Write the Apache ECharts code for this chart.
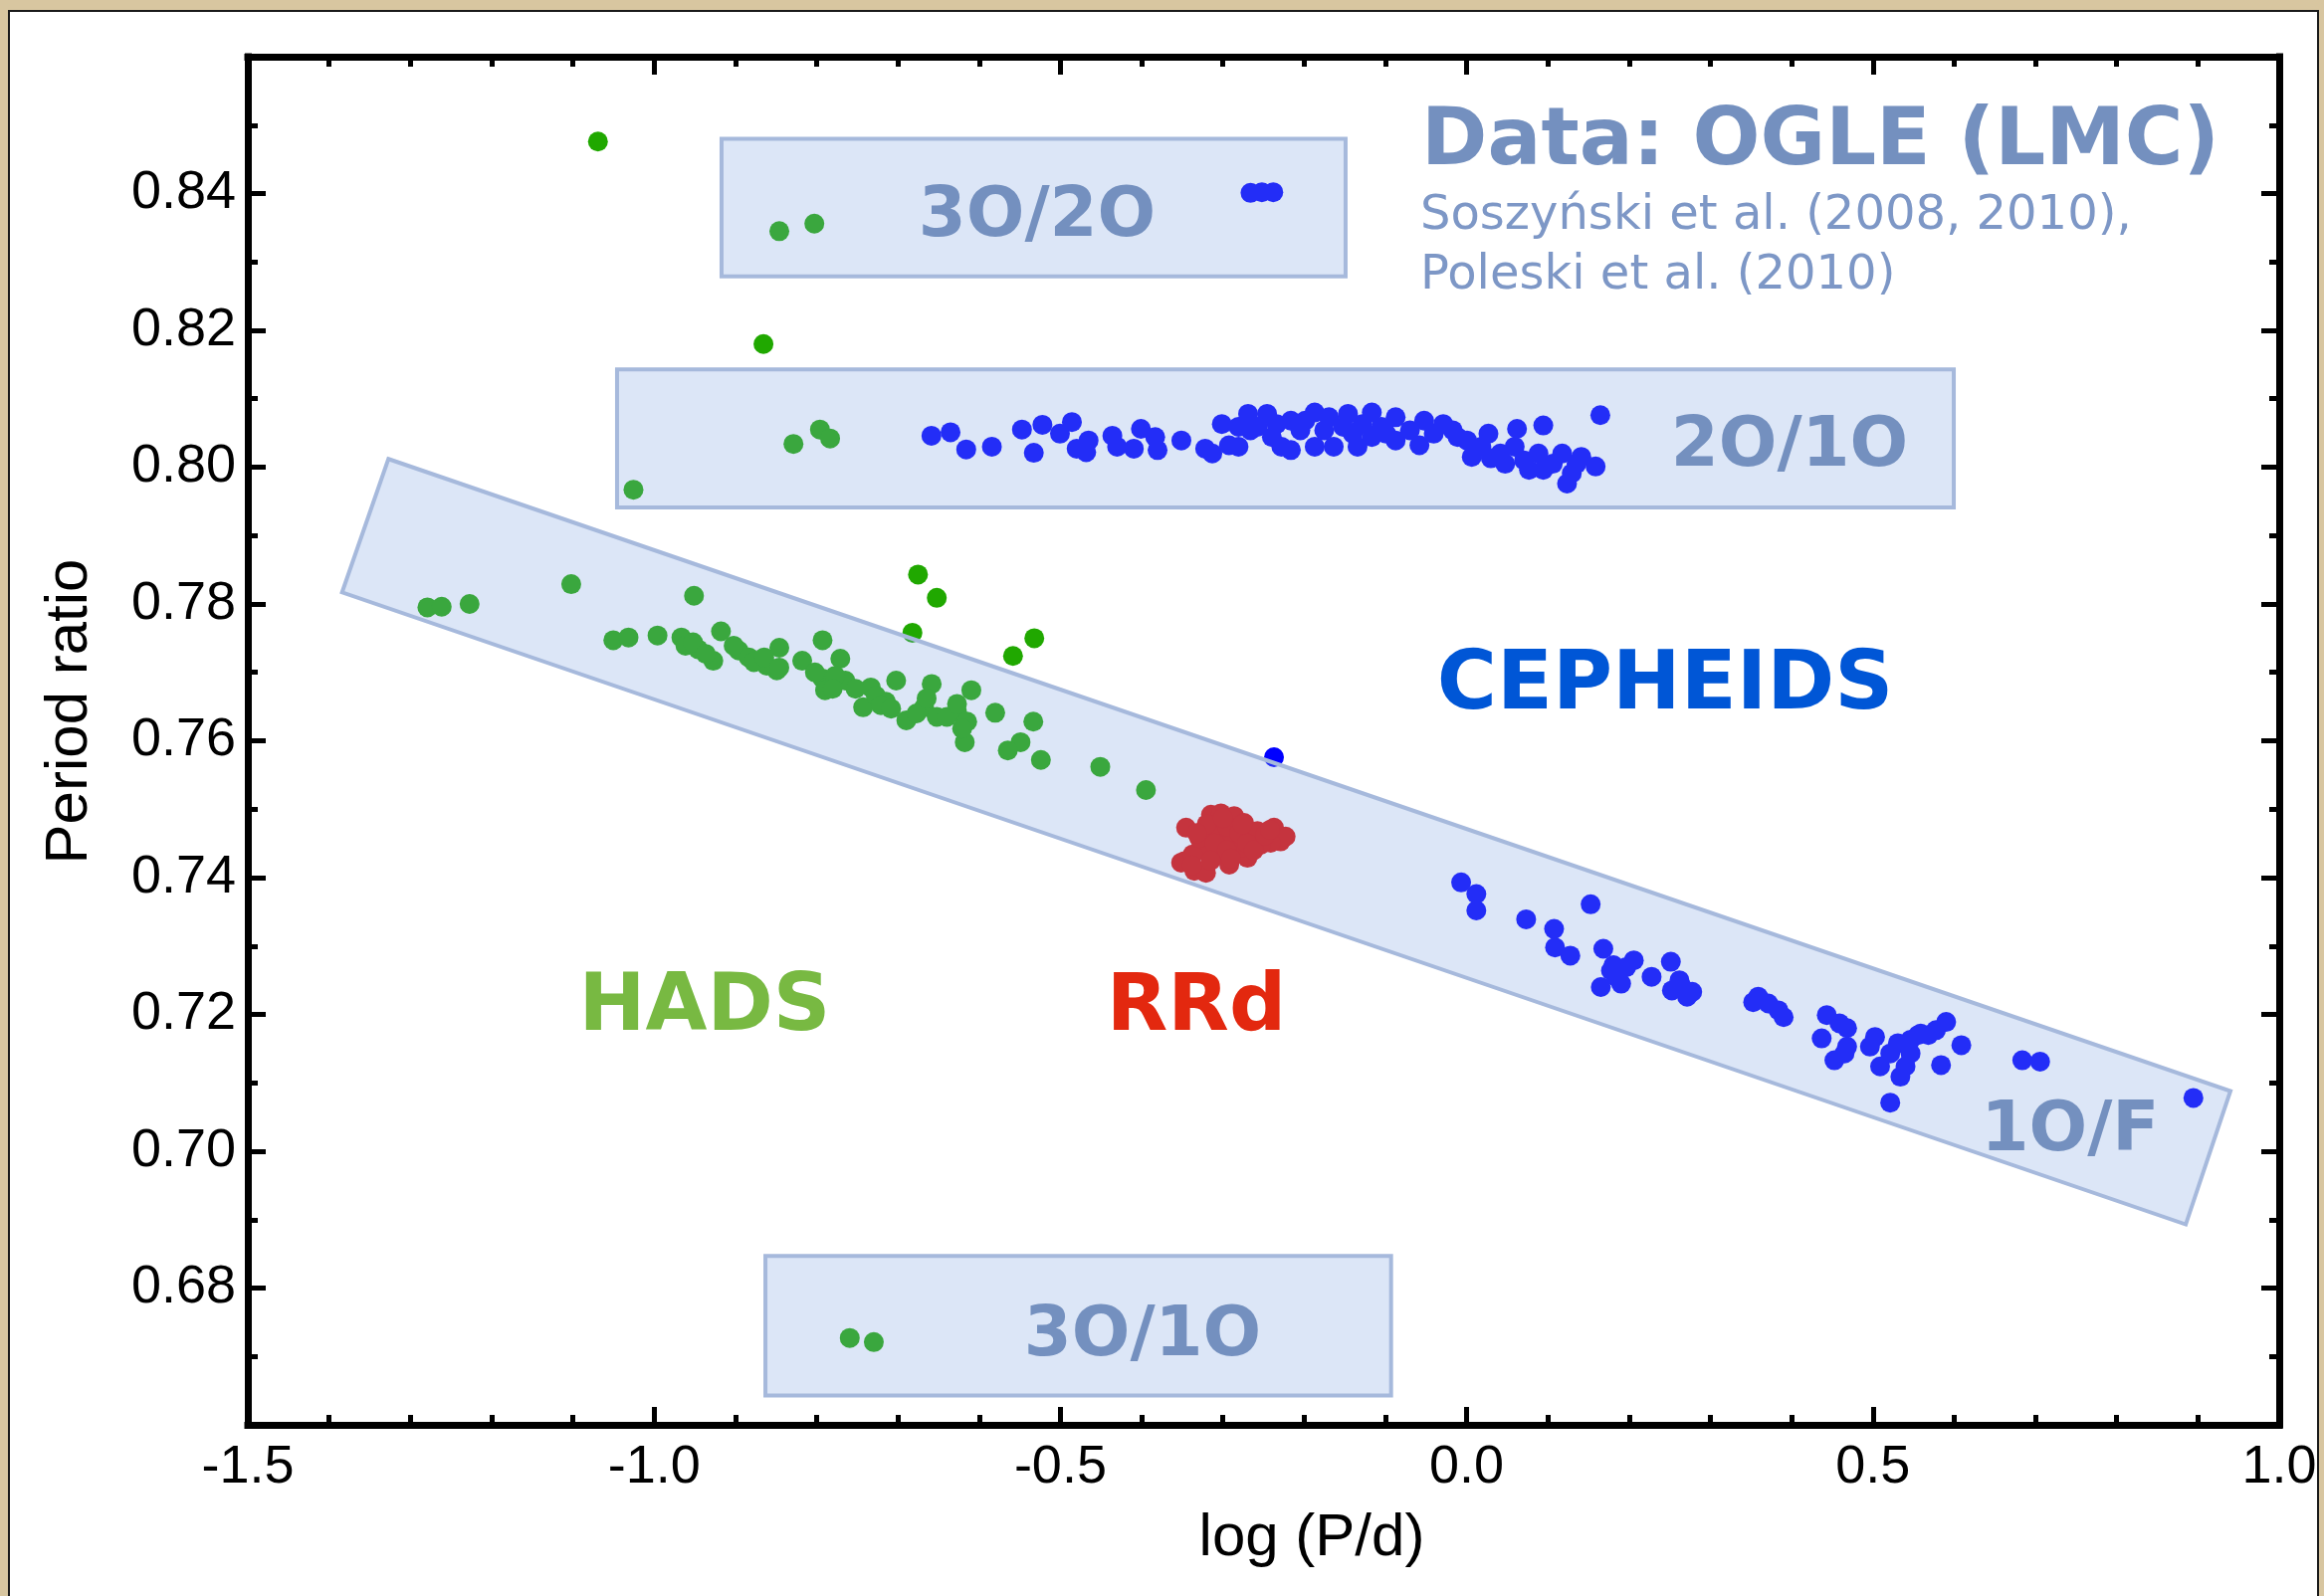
<!DOCTYPE html>
<html><head><meta charset="utf-8">
<script src="https://cdn.jsdelivr.net/npm/echarts/dist/echarts.min.js"></script>
<style>html,body{margin:0;padding:0;background:#d8c6a0}#c{width:2335px;height:1604px}</style>
</head><body><div id="c"></div>
<script>
// ---- data: [log(P/d), period ratio] ----
const hadsPoints = [
 [-1.279,0.7795],[-1.2614,0.7796],[-1.2271,0.7800],[-1.102,0.7829],[-0.9509,0.7812],
 [-1.0502,0.7747],[-1.0315,0.7751],[-0.9958,0.7754],[-0.9664,0.7751],[-0.9614,0.7739],[-0.9459,0.7734],
 [-0.9271,0.7717],[-0.9177,0.7760],[-0.8959,0.7732],[-0.8834,0.7722],[-0.8615,0.7710],[-0.8459,0.7736],
 [-0.8490,0.7703],[-0.8177,0.7717],[-0.7927,0.7747],[-0.7708,0.7720],[-0.7927,0.7691],[-0.7646,0.7688],
 [-0.7896,0.7674],[-0.7333,0.7678],[-0.7428,0.7649],[-0.7146,0.7657],[-0.7021,0.7688],[-0.6896,0.7630],
 [-0.6677,0.7649],[-0.6584,0.7683],[-0.6521,0.7635],[-0.6272,0.7642],[-0.6147,0.7628],[-0.6177,0.7598],
 [-0.6096,0.7674],[-0.5802,0.7641],[-0.5333,0.7628],[-0.5490,0.7598],[-0.5647,0.7586],[-0.5240,0.7572],
 [-0.4509,0.7562],[-0.3947,0.7528],
 [-0.9521,0.7744],[-0.9364,0.7727],[-0.9021,0.7739],[-0.8772,0.7715],[-0.8645,0.7722],[-0.8459,0.7707],
 [-0.8021,0.7700],[-0.7771,0.7695],[-0.7803,0.7676],[-0.7521,0.7676],[-0.7271,0.7666],[-0.7209,0.7652],
 [-0.7083,0.7647],[-0.6771,0.7640],[-0.6646,0.7662],[-0.6397,0.7635],[-0.6209,0.7618],[-0.6272,0.7654],
 [-0.6752,0.7843],[-0.6521,0.7809],[-0.6821,0.7758],[-0.5583,0.7724],[-0.5321,0.7750],
 [-1.0691,0.8476],[-0.8459,0.8345],[-0.8028,0.8356],[-0.8654,0.8180],[-0.8285,0.8034],[-0.7959,0.8055],
 [-0.7834,0.8042],[-1.0254,0.7967],
 [-0.7592,0.6727],[-0.7296,0.6721]
];
const cepheidPoints = [
 // 3O/2O
 [-0.266,0.8401],[-0.252,0.8402],[-0.238,0.8402],
 // 2O/1O
 [-0.6587,0.8046],[-0.6352,0.8051],[-0.6159,0.8026],[-0.5843,0.8030],[-0.5473,0.8055],[-0.5327,0.8021],
 [-0.5221,0.8062],[-0.5005,0.8049],[-0.4858,0.8066],[-0.4800,0.8027],[-0.4682,0.8022],[-0.4653,0.8039],
 [-0.4360,0.8046],[-0.4302,0.8030],[-0.4096,0.8027],[-0.4009,0.8056],[-0.3833,0.8044],[-0.3804,0.8025],
 [-0.3511,0.8039],[-0.3218,0.8027],[-0.3130,0.8020],[-0.3013,0.8063],[-0.2925,0.8032],[-0.2808,0.8030],
 [-0.2690,0.8078],[-0.2661,0.8054],[-0.2456,0.8078],[-0.2280,0.8030],[-0.2163,0.8025],[-0.2046,0.8054],
 [-0.1870,0.8080],[-0.1870,0.8030],[-0.1694,0.8073],[-0.1636,0.8030],[-0.1460,0.8078],[-0.1343,0.8030],
 [-0.1167,0.8080],[-0.1050,0.8059],[-0.0874,0.8073],[-0.0874,0.8039],[-0.0581,0.8032],[-0.0523,0.8068],
 [-0.0288,0.8063],[0.0005,0.8039],[0.0063,0.8015],[0.0268,0.8049],[0.0298,0.8013],[0.0474,0.8005],
 [0.0620,0.8056],[0.0767,0.7996],[0.0943,0.8061],[0.0943,0.7996],[0.1176,0.8020],[0.1235,0.7976],
 [0.1352,0.8005],[0.1587,0.8001],[0.1645,0.8076],
 [-0.2573,0.8059],[-0.2339,0.8063],[-0.2163,0.8068],[-0.1987,0.8068],[-0.1753,0.8054],[-0.1519,0.8059],
 [-0.1284,0.8063],[-0.0991,0.8049],[-0.0698,0.8054],[-0.0405,0.8049],[-0.0171,0.8054],[-0.0112,0.8044],
 [0.0181,0.8030],[0.0415,0.8020],[0.0591,0.8030],[0.0708,0.8010],[0.0884,0.8020],[0.1060,0.8005],
 [0.1294,0.7991],[0.1411,0.8015],[-0.2808,0.8059],[-0.2397,0.8044],[-0.1401,0.8049],[-0.1167,0.8044],
 // 1O/F
 [-0.2371,0.7576],
 [-0.0068,0.7393],[0.0119,0.7376],[0.0119,0.7352],[0.0732,0.7339],[0.1526,0.7361],[0.1076,0.7325],
 [0.1088,0.7298],[0.1276,0.7286],[0.1682,0.7296],[0.1807,0.7272],[0.2057,0.7279],[0.1651,0.7240],
 [0.1901,0.7245],[0.2276,0.7255],[0.2513,0.7277],[0.2619,0.7250],[0.2526,0.7235],[0.2776,0.7233],
 [0.3526,0.7218],[0.3713,0.7216],[0.3901,0.7196],[0.4432,0.7199],[0.4682,0.7180],[0.4369,0.7165],
 [0.4682,0.7153],[0.4526,0.7133],[0.5026,0.7167],[0.5088,0.7124],[0.5307,0.7158],[0.5463,0.7143],
 [0.5338,0.7109],[0.5557,0.7170],[0.5682,0.7170],[0.5901,0.7189],[0.6088,0.7155],[0.5838,0.7126],
 [0.5213,0.7071],[0.6838,0.7133],[0.7057,0.7131],[0.8944,0.7078],
 [0.1776,0.7264],[0.1963,0.7269],[0.1838,0.7255],[0.2651,0.7240],[0.2713,0.7226],[0.3588,0.7226],
 [0.3838,0.7206],[0.4588,0.7187],[0.4651,0.7143],[0.4963,0.7153],[0.5213,0.7143],[0.5401,0.7124],
 [0.5463,0.7163],[0.5588,0.7172],[0.5776,0.7177]
];
const rrdPoints = [
 [-0.3453,0.7473],[-0.3514,0.7422],[-0.3351,0.7410],[-0.3208,0.7407],[-0.3147,0.7492],[-0.3024,0.7494],
 [-0.2861,0.7490],[-0.2739,0.7480],[-0.2657,0.7463],[-0.2575,0.7468],[-0.2371,0.7473],[-0.2290,0.7453],
 [-0.2228,0.7460],[-0.2412,0.7451],[-0.2698,0.7429],[-0.2922,0.7419],[-0.3065,0.7434],[-0.3269,0.7444],
 [-0.3024,0.7458],[-0.2861,0.7453],[-0.3147,0.7468],[-0.2779,0.7444],[-0.2534,0.7448],[-0.3474,0.7424],
 [-0.3371,0.7434],
 [-0.3290,0.7458],[-0.3200,0.7478],[-0.3100,0.7450],[-0.2950,0.7475],[-0.2950,0.7440],[-0.2800,0.7465],
 [-0.2700,0.7450],[-0.2620,0.7440],[-0.2480,0.7462],[-0.2420,0.7470],[-0.3380,0.7418],[-0.3150,0.7425],
 [-0.2900,0.7428],[-0.3000,0.7487],[-0.2760,0.7478],[-0.3320,0.7465]
];
// period-ratio regions, corners in data units
const regionNames = ['3O/2O', '2O/1O', '3O/1O', '1O/F'];
const regionCorners = [
 [[-0.917,0.8480],[-0.149,0.8480],[-0.149,0.8279],[-0.917,0.8279]],
 [[-1.0456,0.8143],[0.5995,0.8143],[0.5995,0.7941],[-1.0456,0.7941]],
 [[-0.863,0.6847],[-0.093,0.6847],[-0.093,0.6643],[-0.863,0.6643]],
 [[-1.327,0.8012],[0.940,0.7088],[0.885,0.6893],[-1.384,0.7817]]
];
const xTicks = {min: -1.5, max: 1.0, step: 0.5};
const yTicks = {min: 0.66, max: 0.86, step: 0.02};

const chart = echarts.init(document.getElementById('c'));
const tickFont = '"Liberation Sans", Arial, sans-serif';
const slate = '#7490bf';

function axisCommon(isX) {
  return {
    axisLine: {show: true, onZero: false, lineStyle: {color: '#000', width: 7, cap: 'square'}},
    axisTick: {show: true, inside: true, length: 18, lineStyle: {color: '#000', width: 5}},
    minorTick: {show: true, splitNumber: isX ? 5 : 2, length: 10, lineStyle: {color: '#000', width: 5}},
    splitLine: {show: false},
    minorSplitLine: {show: false}
  };
}

const regionCenters = regionCorners.map(c => [
  c.reduce((s, p) => s + p[0], 0) / c.length,
  c.reduce((s, p) => s + p[1], 0) / c.length
]);

chart.setOption({
  backgroundColor: '#d8c6a0',
  animation: false,
  grid: {left: 249, right: 45, top: 57, bottom: 172},
  xAxis: [
    Object.assign({type: 'value', min: xTicks.min, max: xTicks.max, interval: xTicks.step, position: 'bottom',
      axisLabel: {show: true, fontSize: 54, color: '#000', fontFamily: tickFont, margin: 16,
        formatter: v => v.toFixed(1)}}, axisCommon(true)),
    Object.assign({type: 'value', min: xTicks.min, max: xTicks.max, interval: xTicks.step, position: 'top',
      axisLabel: {show: false}}, axisCommon(true))
  ],
  yAxis: [
    Object.assign({type: 'value', min: yTicks.min, max: yTicks.max, interval: yTicks.step, position: 'left',
      axisLabel: {show: true, fontSize: 54, color: '#000', fontFamily: tickFont, margin: 12,
        formatter: v => (v < 0.67 || v > 0.85) ? '' : v.toFixed(2)}}, axisCommon(false)),
    Object.assign({type: 'value', min: yTicks.min, max: yTicks.max, interval: yTicks.step, position: 'right',
      axisLabel: {show: false}}, axisCommon(false))
  ],
  series: [
    {type: 'scatter', name: 'HADS', data: hadsPoints, symbolSize: 20, z: 2,
      itemStyle: {color: '#20a800', opacity: 1}},
    {type: 'scatter', name: 'Cepheids', data: cepheidPoints, symbolSize: 20, z: 2,
      itemStyle: {color: '#0000ff', opacity: 1}},
    {type: 'scatter', name: 'RRd', data: rrdPoints, symbolSize: 20, z: 2,
      itemStyle: {color: '#e00a00', opacity: 1}},
    {type: 'custom', name: 'regions', z: 3, data: regionCenters,
      renderItem: function (params, api) {
        const pts = regionCorners[params.dataIndex].map(p => api.coord(p));
        return {type: 'polygon', shape: {points: pts},
          style: {fill: 'rgba(128,164,226,0.276)', stroke: '#a6b9dc', lineWidth: 4, lineJoin: 'miter'}};
      }}
  ],
  graphic: [
    {type: 'rect', z: -100, shape: {x: 9, y: 11, width: 2320, height: 1600},
      style: {fill: '#ffffff', stroke: '#1a1a1a', lineWidth: 2}},
    // region labels
    {type: 'text', z: 100, x: 1042, y: 219, style: {text: regionNames[0], font: 'bold 69px "DejaVu Sans"', fill: slate, align: 'center', verticalAlign: 'middle'}},
    {type: 'text', z: 100, x: 1798, y: 450, style: {text: regionNames[1], font: 'bold 69px "DejaVu Sans"', fill: slate, align: 'center', verticalAlign: 'middle'}},
    {type: 'text', z: 100, x: 1148, y: 1344, style: {text: regionNames[2], font: 'bold 69px "DejaVu Sans"', fill: slate, align: 'center', verticalAlign: 'middle'}},
    {type: 'text', z: 100, x: 2080, y: 1138, style: {text: regionNames[3], font: 'bold 69px "DejaVu Sans"', fill: slate, align: 'center', verticalAlign: 'middle'}},
    // source
    {type: 'text', z: 100, x: 1428, y: 144, style: {text: 'Data: OGLE (LMC)', font: 'bold 80px "DejaVu Sans"', fill: slate, align: 'left', verticalAlign: 'middle'}},
    {type: 'text', z: 100, x: 1427, y: 218, style: {text: 'Soszyński et al. (2008, 2010),', font: '48px "DejaVu Sans"', fill: '#7d97c6', align: 'left', verticalAlign: 'middle'}},
    {type: 'text', z: 100, x: 1427, y: 278, style: {text: 'Poleski et al. (2010)', font: '48px "DejaVu Sans"', fill: '#7d97c6', align: 'left', verticalAlign: 'middle'}},
    // classes
    {type: 'text', z: 100, x: 1673, y: 691, style: {text: 'CEPHEIDS', font: 'bold 82px "DejaVu Sans"', fill: '#0056d6', align: 'center', verticalAlign: 'middle'}},
    {type: 'text', z: 100, x: 708, y: 1014, style: {text: 'HADS', font: 'bold 80px "DejaVu Sans"', fill: '#78b942', align: 'center', verticalAlign: 'middle'}},
    {type: 'text', z: 100, x: 1202, y: 1014, style: {text: 'RRd', font: 'bold 80px "DejaVu Sans"', fill: '#e3280f', align: 'center', verticalAlign: 'middle'}},
    // axis names
    {type: 'text', z: 100, x: 70, y: 715, rotation: Math.PI / 2, style: {text: 'Period ratio', font: '60px "Liberation Sans"', fill: '#000', align: 'center', verticalAlign: 'middle'}},
    {type: 'text', z: 100, x: 1318, y: 1546, style: {text: 'log (P/d)', font: '60px "Liberation Sans"', fill: '#000', align: 'center', verticalAlign: 'middle'}}
  ]
});
</script>
</body></html>
